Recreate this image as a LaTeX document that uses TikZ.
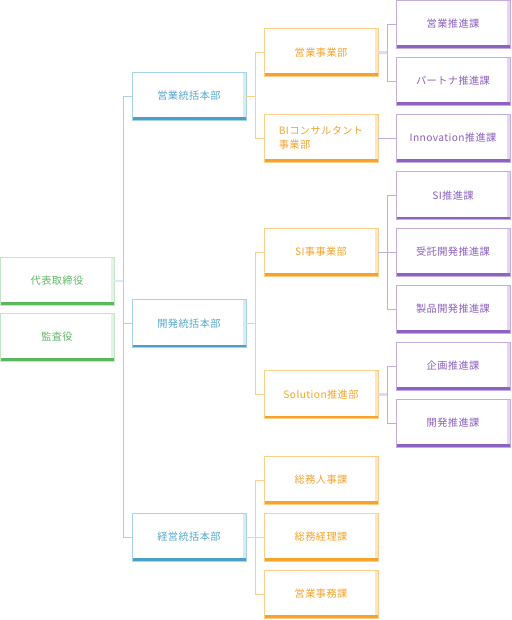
\documentclass[tikz,border=0pt]{standalone}
\usepackage{fontspec}
\newfontfamily\jp[LetterSpace=4]{Noto Sans CJK JP}
\definecolor{gt}{HTML}{62B86A}
\definecolor{gd}{HTML}{5CB85C}
\definecolor{gl}{HTML}{C3E6C6}
\definecolor{gvl}{HTML}{E2F3E3}
\definecolor{bt}{HTML}{55A7CF}
\definecolor{bd}{HTML}{4AA0C8}
\definecolor{bl}{HTML}{A9D3E4}
\definecolor{bvl}{HTML}{D6EBF4}
\definecolor{ot}{HTML}{F5A32B}
\definecolor{od}{HTML}{F7A32B}
\definecolor{ol}{HTML}{FDCF8A}
\definecolor{ovl}{HTML}{FEE6C4}
\definecolor{pt}{HTML}{8B5FC0}
\definecolor{pd}{HTML}{8C62C4}
\definecolor{pl}{HTML}{C4ACDF}
\definecolor{pvl}{HTML}{E4D8F0}
\tikzset{
  box/.style={draw, line width=0.8pt, minimum width=114pt, minimum height=48pt,
    anchor=north west, inner sep=0pt, outer sep=0pt, align=center,
    font=\jp\fontsize{10.2}{14}\selectfont},
  deco/.style 2 args={path picture={
    \fill[#2] ([xshift=-3pt]path picture bounding box.north east) rectangle (path picture bounding box.south east);
    \fill[#1] ([yshift=3pt]path picture bounding box.south west) rectangle (path picture bounding box.south east);}},
  gbox/.style={box, draw=gl, text=gt, deco={gd}{gvl}},
  bbox/.style={box, draw=bl, text=bt, deco={bd}{bvl}},
  obox/.style={box, draw=ol, text=ot, deco={od}{ovl}},
  pbox/.style={box, draw=pl, text=pt, deco={pd}{pvl}},
  bline/.style={draw=bl, line width=0.8pt},
  oline/.style={draw=ol, line width=0.8pt},
  pline/.style={draw=pl, line width=0.8pt},
  bstub/.style={draw=bvl, line width=2.2pt},
  pstub/.style={draw=pvl, line width=2.2pt},
}
\begin{document}
\begin{tikzpicture}[x=1pt,y=-1pt]
\useasboundingbox (0,0) rectangle (511,620);
% green
\node[gbox] (ceo) at (0,257) {代表取締役};
\node[gbox] (aud) at (0,313) {監査役};
% blue
\node[bbox] (b1) at (132,72) {営業統括本部};
\node[bbox] (b2) at (132,299.5) {開発統括本部};
\node[bbox] (b3) at (132,513) {経営統括本部};
% orange
\node[obox] (o1) at (264,28.5) {営業事業部};
\node[obox, align=left] (o2) at (264,114) {BIコンサルタント\\事業部};
\node[obox] (o3) at (264,228) {SI事事業部};
\node[obox] (o4) at (264,370.5) {Solution推進部};
\node[obox] (o5) at (264,456) {総務人事課};
\node[obox] (o6) at (264,513) {総務経理課};
\node[obox] (o7) at (264,570) {営業事務課};
% purple
\node[pbox] (p1) at (396,0) {営業推進課};
\node[pbox] (p2) at (396,57) {パートナ推進課};
\node[pbox] (p3) at (396,114) {Innovation推進課};
\node[pbox] (p4) at (396,171.5) {SI推進課};
\node[pbox] (p5) at (396,228) {受託開発推進課};
\node[pbox] (p6) at (396,285) {製品開発推進課};
\node[pbox] (p7) at (396,342) {企画推進課};
\node[pbox] (p8) at (396,399) {開発推進課};
% connectors level 1
\draw[bstub] (ceo.east) -- ++(9,0);
\draw[bline] (b1.west) -- ++(-9,0) |- (b3.west);
\draw[bline] (b2.west) -- ++(-9,0);
% level 2
\draw[oline] (b1.east) -- ++(9,0);
\draw[oline] (o1.west) -- ++(-9,0) |- (o2.west);
\draw[oline] (b2.east) -- ++(9,0);
\draw[oline] (o3.west) -- ++(-9,0) |- (o4.west);
\draw[oline] (b3.east) -- ++(9,0);
\draw[oline] (o5.west) -- ++(-9,0) |- (o7.west);
\draw[oline] (o6.west) -- ++(-9,0);
% level 3
\draw[pstub] (o1.east) -- ++(9,0);
\draw[pline] (p1.west) -- ++(-9,0) |- (p2.west);
\draw[pline] (o2.east) -- (p3.west);
\draw[pline] (o3.east) -- ++(9,0);
\draw[pline] (p4.west) -- ++(-9,0) |- (p6.west);
\draw[pline] (p5.west) -- ++(-9,0);
\draw[pstub] (o4.east) -- ++(9,0);
\draw[pline] (p7.west) -- ++(-9,0) |- (p8.west);
\end{tikzpicture}
\end{document}
